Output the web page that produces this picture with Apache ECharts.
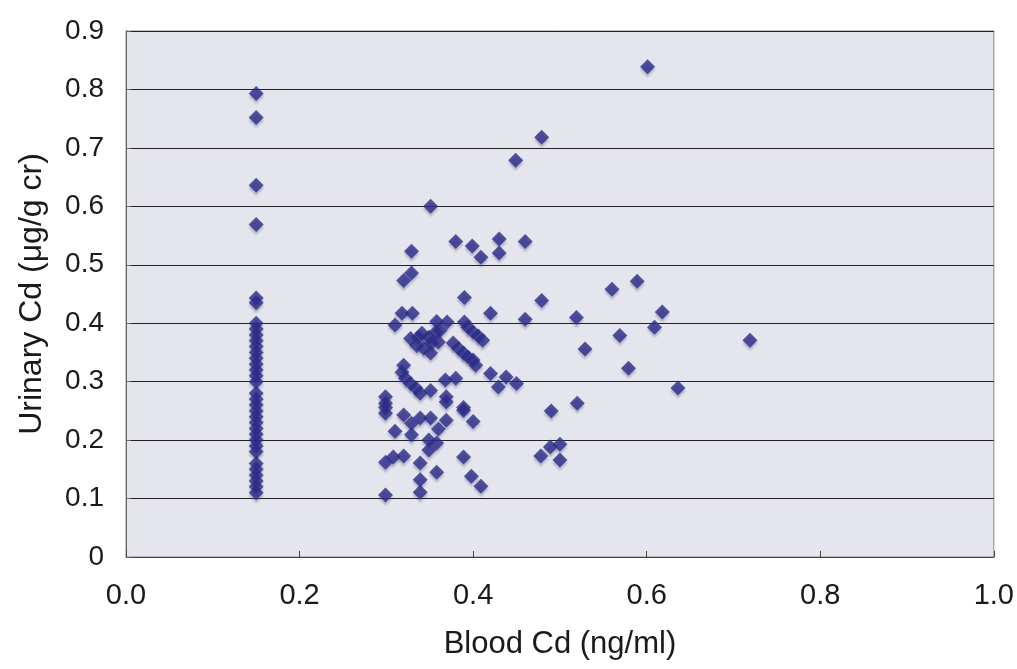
<!DOCTYPE html>
<html><head><meta charset="utf-8">
<script src="https://cdn.jsdelivr.net/npm/echarts@6/dist/echarts.min.js"></script>
<style>html,body{margin:0;padding:0;background:#fff}#c{width:1017px;height:669px}</style>
</head><body><div id="c"></div>
<script>
// Blood Cd (ng/ml) x values and Urinary Cd (µg/g cr) y values
const columnX = 0.15;
const columnY = [0.793,0.752,0.636,0.569,0.443,0.435,
  0.40,0.39,0.38,0.37,0.36,0.35,0.34,0.33,0.32,0.31,0.30,
  0.28,0.27,0.26,0.25,0.24,0.23,0.22,0.21,0.20,0.19,0.18,
  0.16,0.15,0.14,0.13,0.12,0.11];
const scatterX = [0.601,0.479,0.449,0.351,0.38,0.399,0.409,0.43,0.43,0.46,0.329,0.329,0.32,
  0.39,0.479,0.56,0.589,0.618,0.609,0.569,0.519,0.46,0.42,0.318,0.33,0.31,0.358,0.37,0.39,
  0.394,0.40,0.406,0.411,0.328,0.337,0.341,0.349,0.357,0.362,0.335,0.343,0.351,0.352,0.36,
  0.377,0.383,0.389,0.394,0.40,0.403,0.32,0.318,0.322,0.328,0.334,0.339,0.351,0.368,0.38,
  0.369,0.42,0.429,0.438,0.45,0.299,0.299,0.389,0.299,0.299,0.32,0.31,0.329,0.339,0.351,
  0.329,0.369,0.36,0.389,0.40,0.369,0.349,0.358,0.349,0.299,0.308,0.32,0.339,0.358,0.389,
  0.398,0.409,0.339,0.339,0.299,0.529,0.579,0.49,0.52,0.478,0.489,0.50,0.50,0.636,0.719];
const scatterY = [0.839,0.718,0.679,0.600,0.54,0.532,0.513,0.544,0.52,0.54,0.523,0.486,0.473,
  0.444,0.439,0.458,0.472,0.419,0.393,0.379,0.41,0.407,0.417,0.417,0.417,0.397,0.403,0.402,0.402,
  0.393,0.385,0.378,0.371,0.374,0.376,0.383,0.376,0.385,0.388,0.362,0.357,0.349,0.366,0.368,
  0.366,0.357,0.349,0.342,0.337,0.328,0.328,0.316,0.306,0.297,0.289,0.28,0.285,0.303,0.306,
  0.274,0.314,0.291,0.308,0.297,0.274,0.256,0.256,0.263,0.246,0.243,0.215,0.229,0.238,0.238,
  0.209,0.234,0.219,0.251,0.232,0.265,0.20,0.195,0.183,0.162,0.171,0.173,0.161,0.145,0.171,
  0.138,0.121,0.132,0.111,0.106,0.356,0.323,0.25,0.263,0.173,0.188,0.193,0.166,0.289,0.371];
const xTicks = ['0.0','0.2','0.4','0.6','0.8','1.0'];
const yTicks = ['0','0.1','0.2','0.3','0.4','0.5','0.6','0.7','0.8','0.9'];

const data = columnY.map(v => [columnX, v]).concat(scatterX.map((x, i) => [x, scatterY[i]]));
const chart = echarts.init(document.getElementById('c'), null, {renderer: 'canvas'});
const font = "'Liberation Sans', Arial, sans-serif";
chart.setOption({
  animation: false,
  backgroundColor: '#ffffff',
  grid: {left: 126, right: 19, top: 31, bottom: 112, show: true, backgroundColor: '#e5e5ed', borderColor: '#8a8a8a', borderWidth: 1},
  xAxis: {
    type: 'value', min: 0, max: 1, interval: 0.2,
    name: 'Blood Cd (ng/ml)', nameLocation: 'middle', nameGap: 72,
    nameTextStyle: {fontFamily: font, fontSize: 31, color: '#1a1a1a'},
    axisLine: {show: true, lineStyle: {color: '#444', width: 1}},
    axisTick: {show: true, inside: true, length: 6, lineStyle: {color: '#444'}},
    splitLine: {show: false},
    axisLabel: {fontFamily: font, fontSize: 29, color: '#1a1a1a', margin: 24,
      formatter: v => xTicks[Math.round(v / 0.2)]}
  },
  yAxis: {
    type: 'value', min: 0, max: 0.9, interval: 0.1,
    name: 'Urinary Cd (μg/g cr)', nameLocation: 'middle', nameGap: 78,
    nameTextStyle: {fontFamily: font, fontSize: 32, color: '#1a1a1a'},
    axisLine: {show: true, lineStyle: {color: '#666', width: 1}},
    axisTick: {show: true, inside: true, length: 5, lineStyle: {color: '#666'}},
    splitLine: {show: true, lineStyle: {color: '#222', width: 1}},
    axisLabel: {fontFamily: font, fontSize: 28, color: '#1a1a1a', margin: 22,
      formatter: v => yTicks[Math.round(v * 10)]}
  },
  series: [{
    type: 'scatter', data: data, symbol: 'diamond', symbolSize: 15,
    itemStyle: {color: '#2b2a88', shadowColor: 'rgba(60,60,120,0.35)', shadowOffsetY: 3, shadowBlur: 2}
  }]
});
</script></body></html>
